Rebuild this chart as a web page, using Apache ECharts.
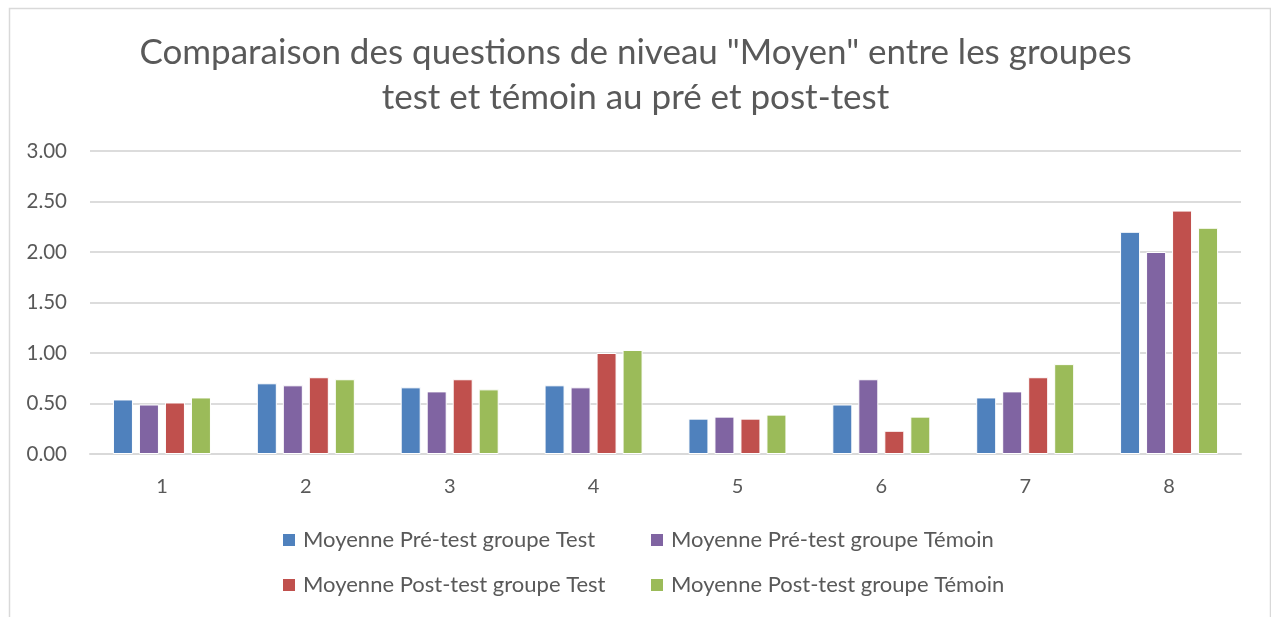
<!DOCTYPE html>
<html>
<head>
<meta charset="utf-8">
<script src="https://cdn.jsdelivr.net/npm/echarts@6/dist/echarts.min.js"></script>
<style>
html,body{margin:0;padding:0;background:#fff;}
#chart{width:1271px;height:617px;}
</style>
</head>
<body>
<div id="chart"></div>
<script>
const titleText = 'Comparaison des questions de niveau "Moyen" entre les groupes\ntest et témoin au pré et post-test';
const categories = ['1','2','3','4','5','6','7','8'];
const seriesNames = [
  'Moyenne Pré-test groupe Test',
  'Moyenne Pré-test groupe Témoin',
  'Moyenne Post-test groupe Test',
  'Moyenne Post-test groupe Témoin'
];
const preTest   = [0.54, 0.70, 0.66, 0.68, 0.35, 0.49, 0.56, 2.20];
const preTemoin = [0.49, 0.68, 0.62, 0.66, 0.37, 0.74, 0.62, 2.00];
const postTest  = [0.51, 0.76, 0.74, 1.00, 0.35, 0.23, 0.76, 2.41];
const postTemoin= [0.56, 0.74, 0.64, 1.03, 0.39, 0.37, 0.89, 2.24];
const yTicks = [0, 0.5, 1, 1.5, 2, 2.5, 3];

const colors = ['#4F81BD', '#8064A2', '#C0504D', '#9BBB59'];
const values = [preTest, preTemoin, postTest, postTemoin];
const FONT = 'Lato, "Open Sans", sans-serif';

const chart = echarts.init(document.getElementById('chart'));
const legendPos = [
  {left: 281, top: 529},
  {left: 649, top: 529},
  {left: 281, top: 574},
  {left: 649, top: 574}
];
const option = {
  animation: false,
  backgroundColor: '#fff',
  title: {
    text: titleText,
    left: 'center',
    top: 25,
    textStyle: {fontFamily: FONT, fontSize: 35, fontWeight: 'normal', color: '#595959', lineHeight: 45}
  },
  graphic: [{
    type: 'rect', left: 7, top: 6, shape: {width: 1261, height: 640},
    style: {fill: 'none', stroke: '#d9d9d9', lineWidth: 1.5}, silent: true, z: -1
  }],
  legend: seriesNames.map((n, i) => ({
    data: [n], left: legendPos[i].left, top: legendPos[i].top,
    padding: 0,
    itemWidth: 14, itemHeight: 14, itemGap: 0, icon: 'rect',
    textStyle: {fontFamily: FONT, fontSize: 22, color: '#595959', padding: [0,0,0,2]},
    selectedMode: false
  })),
  grid: {left: 90, right: 30, top: 151, bottom: 163, containLabel: false},
  xAxis: {
    type: 'category', data: categories,
    axisLine: {lineStyle: {color: '#d9d9d9', width: 2}},
    axisTick: {show: false},
    axisLabel: {fontFamily: FONT, fontSize: 20, color: '#595959', margin: 23}
  },
  yAxis: {
    type: 'value', min: 0, max: 3, interval: 0.5,
    axisLine: {show: false}, axisTick: {show: false},
    splitLine: {lineStyle: {color: '#dcdcdc', width: 2}},
    axisLabel: {fontFamily: FONT, fontSize: 20.5, color: '#595959', margin: 23,
      formatter: v => v.toFixed(2)}
  },
  series: seriesNames.map((n, i) => ({
    name: n, type: 'bar', data: values[i],
    barWidth: 20, barGap: '30%',
    itemStyle: {color: colors[i], borderColor: '#ffffff', borderWidth: 1},
    emphasis: {disabled: true}
  }))
};
chart.setOption(option);
</script>
</body>
</html>
